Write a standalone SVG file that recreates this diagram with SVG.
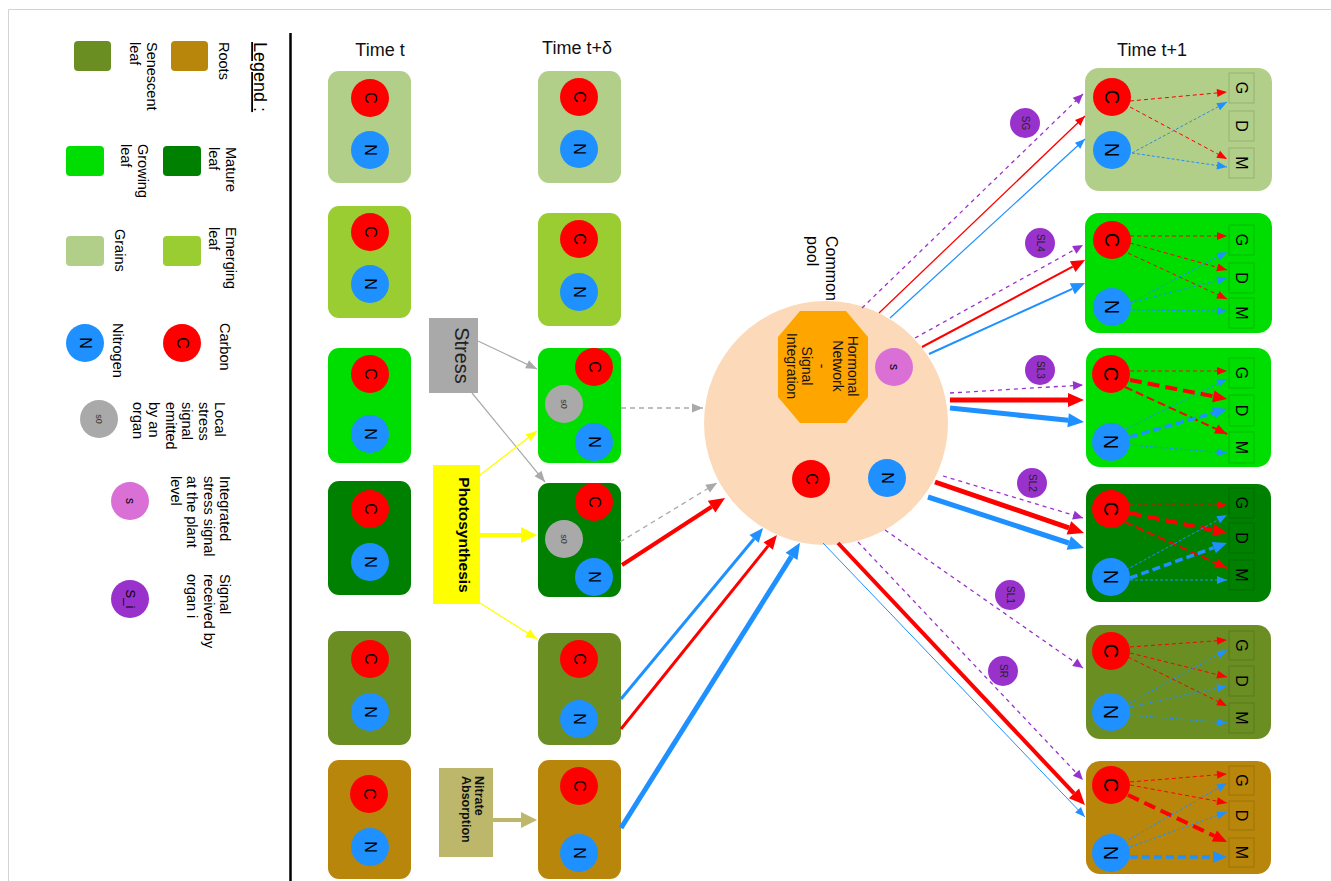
<svg xmlns="http://www.w3.org/2000/svg" width="1331" height="881" viewBox="0 0 1331 881">
<style>
text { font-family: "Liberation Sans", Arial, sans-serif; fill:#000; }
.lg { font-size:14.5px; }
.cn { font-size:16px; text-anchor:middle; dominant-baseline:central; }
.cb { font-size:20px; text-anchor:middle; dominant-baseline:central; }
.gdm { font-size:16px; text-anchor:middle; dominant-baseline:central; }
.sg { font-size:10px; text-anchor:middle; dominant-baseline:central; fill:#222; }
.s0 { font-size:9px; text-anchor:middle; dominant-baseline:central; fill:#333; }
.ttl { font-size:18px; text-anchor:middle; fill:#111; }
.C { fill:#FF0000; }
.N { fill:#1E90FF; }
.S0 { fill:#A9A9A9; }
.SS { fill:#DA70D6; }
.SI { fill:#9932CC; }
.grain { fill:#B2CF89; }
.emer { fill:#9ACD32; }
.grow { fill:#00DD00; }
.mat { fill:#008000; }
.sen { fill:#6B8E23; }
.root { fill:#B8860B; }
.bx { fill:none; stroke:#000; stroke-opacity:0.15; stroke-width:1; }
line { fill:none; }
.gd { stroke:#A9A9A9; stroke-width:1.3; stroke-dasharray:5 4; }
.g1 { stroke:#A9A9A9; stroke-width:1.2; }
.y1 { stroke:#FFFF00; stroke-width:1.3; }
.y4 { stroke:#FFFF00; stroke-width:4; }
.k4 { stroke:#BDB76B; stroke-width:4; }
.pd { stroke:#9932CC; stroke-width:1.3; stroke-dasharray:4 4; }
.r1 { stroke:#FF0000; stroke-width:1.3; }
.b1 { stroke:#1E90FF; stroke-width:1.2; }
.r2 { stroke:#FF0000; stroke-width:2; }
.b2 { stroke:#1E90FF; stroke-width:2; }
.r3 { stroke:#FF0000; stroke-width:3; }
.b3 { stroke:#1E90FF; stroke-width:3; }
.r4 { stroke:#FF0000; stroke-width:4; }
.r5 { stroke:#FF0000; stroke-width:5; }
.b5 { stroke:#1E90FF; stroke-width:5; }
.rd { stroke:#FF0000; stroke-width:1; stroke-dasharray:4 3; }
.bd { stroke:#1E90FF; stroke-width:1; stroke-dasharray:3 2; }
.rdm { stroke:#FF0000; stroke-width:2; stroke-dasharray:8 4; }
.rdt { stroke:#FF0000; stroke-width:4; stroke-dasharray:12 6; }
.bdt { stroke:#1E90FF; stroke-width:3.5; stroke-dasharray:8 4; }
</style>
<defs>
<marker id="aR" markerUnits="userSpaceOnUse" markerWidth="10" markerHeight="8" refX="10" refY="4" orient="auto" overflow="visible"><path d="M0,0L10,4L0,8z" fill="#FF0000"/></marker>
<marker id="aB" markerUnits="userSpaceOnUse" markerWidth="10" markerHeight="8" refX="10" refY="4" orient="auto" overflow="visible"><path d="M0,0L10,4L0,8z" fill="#1E90FF"/></marker>
<marker id="aP" markerUnits="userSpaceOnUse" markerWidth="10" markerHeight="9" refX="10" refY="4.5" orient="auto" overflow="visible"><path d="M0,0L10,4.5L0,9z" fill="#9932CC"/></marker>
<marker id="aG" markerUnits="userSpaceOnUse" markerWidth="11" markerHeight="9" refX="11" refY="4.5" orient="auto" overflow="visible"><path d="M0,0L11,4.5L0,9z" fill="#A9A9A9"/></marker>
<marker id="aY" markerUnits="userSpaceOnUse" markerWidth="11" markerHeight="9" refX="11" refY="4.5" orient="auto" overflow="visible"><path d="M0,0L11,4.5L0,9z" fill="#FFFF00"/></marker>
<marker id="aR2" markerUnits="userSpaceOnUse" markerWidth="12" markerHeight="10" refX="12" refY="5" orient="auto" overflow="visible"><path d="M0,0L12,5L0,10z" fill="#FF0000"/></marker>
<marker id="mR" markerUnits="userSpaceOnUse" markerWidth="14" markerHeight="12" refX="0" refY="6" orient="auto" overflow="visible"><path d="M0,0L14,6L0,12z" fill="#FF0000"/></marker>
<marker id="mB" markerUnits="userSpaceOnUse" markerWidth="14" markerHeight="12" refX="0" refY="6" orient="auto" overflow="visible"><path d="M0,0L14,6L0,12z" fill="#1E90FF"/></marker>
<marker id="lR" markerUnits="userSpaceOnUse" markerWidth="16" markerHeight="14" refX="0" refY="7" orient="auto" overflow="visible"><path d="M0,0L16,7L0,14z" fill="#FF0000"/></marker>
<marker id="lB" markerUnits="userSpaceOnUse" markerWidth="16" markerHeight="14" refX="0" refY="7" orient="auto" overflow="visible"><path d="M0,0L16,7L0,14z" fill="#1E90FF"/></marker>
<marker id="lY" markerUnits="userSpaceOnUse" markerWidth="16" markerHeight="16" refX="0" refY="8" orient="auto" overflow="visible"><path d="M0,0L16,8L0,16z" fill="#FFFF00"/></marker>
<marker id="lK" markerUnits="userSpaceOnUse" markerWidth="16" markerHeight="16" refX="0" refY="8" orient="auto" overflow="visible"><path d="M0,0L16,8L0,16z" fill="#BDB76B"/></marker>
</defs>

<rect x="0" y="0" width="1331" height="881" fill="#fff"/>
<path d="M8.5,881V9.5H1331" fill="none" stroke="#D3D3D3" stroke-width="1"/>
<line x1="290.5" y1="33" x2="290.5" y2="881" stroke="#000" stroke-width="2.5"/>

<g id="legend">
  <text class="lg" transform="translate(254,42) rotate(90)" style="font-size:18px;text-decoration:underline">Legend :</text>
  <rect class="root" x="171" y="41" width="37" height="30" rx="4"/>
  <text class="lg" transform="translate(219,42) rotate(90)">Roots</text>
  <rect class="sen" x="74" y="41" width="37" height="30" rx="4"/>
  <text class="lg" transform="translate(147,42) rotate(90)"><tspan x="0" y="0">Senescent</tspan><tspan x="0" y="17">leaf</tspan></text>
  <rect class="mat" x="163" y="146" width="38" height="30" rx="4"/>
  <text class="lg" transform="translate(226,147) rotate(90)"><tspan x="0" y="0">Mature</tspan><tspan x="0" y="17">leaf</tspan></text>
  <rect class="grow" x="66" y="146" width="38" height="30" rx="4"/>
  <text class="lg" transform="translate(138,144) rotate(90)"><tspan x="0" y="0">Growing</tspan><tspan x="0" y="17">leaf</tspan></text>
  <rect class="emer" x="163" y="236" width="38" height="30" rx="4"/>
  <text class="lg" transform="translate(226,227) rotate(90)"><tspan x="0" y="0">Emerging</tspan><tspan x="0" y="17">leaf</tspan></text>
  <rect class="grain" x="66" y="236" width="38" height="30" rx="4"/>
  <text class="lg" transform="translate(115,229) rotate(90)">Grains</text>
  <circle class="C" cx="182" cy="343" r="19"/>
  <text class="cn" transform="translate(182,343) rotate(90)">C</text>
  <text class="lg" transform="translate(220,323) rotate(90)">Carbon</text>
  <circle class="N" cx="85" cy="343" r="19"/>
  <text class="cn" transform="translate(85,343) rotate(90)">N</text>
  <text class="lg" transform="translate(113,323) rotate(90)">Nitrogen</text>
  <circle class="S0" cx="99" cy="419" r="19"/>
  <text class="s0" transform="translate(99,419) rotate(90)">s0</text>
  <text class="lg" transform="translate(215,402) rotate(90)"><tspan x="0" y="0">Local</tspan><tspan x="0" y="16.5">stress</tspan><tspan x="0" y="33">signal</tspan><tspan x="0" y="49.5">emitted</tspan><tspan x="0" y="66">by an</tspan><tspan x="0" y="82.5">organ</tspan></text>
  <circle class="SS" cx="130" cy="501" r="19"/>
  <text class="cn" transform="translate(130,501) rotate(90)" style="font-size:12px">s</text>
  <text class="lg" transform="translate(220,476) rotate(90)"><tspan x="0" y="0">Integrated</tspan><tspan x="0" y="16.5">stress signal</tspan><tspan x="0" y="33">at the plant</tspan><tspan x="0" y="49.5">level</tspan></text>
  <circle class="SI" cx="130" cy="599" r="19"/>
  <text class="cn" transform="translate(130,599) rotate(90)" style="font-size:13px">S_i</text>
  <text class="lg" transform="translate(220,574) rotate(90)"><tspan x="0" y="0">Signal</tspan><tspan x="0" y="16.5">received by</tspan><tspan x="0" y="33">organ i</tspan></text>
</g>

<text class="ttl" x="380" y="56">Time t</text>
<text class="ttl" x="577" y="54">Time t+δ</text>
<text class="ttl" x="1152" y="56">Time t+1</text>

<!-- Time t -->
<g id="t0-grains">
  <rect class="grain" x="328" y="71" width="83" height="112" rx="11"/>
  <circle class="C" cx="370" cy="98" r="19"/><text class="cn" transform="translate(370,98) rotate(90)">C</text>
  <circle class="N" cx="370" cy="150" r="19"/><text class="cn" transform="translate(370,150) rotate(90)">N</text>
</g>
<g id="t0-emerging">
  <rect class="emer" x="328" y="206" width="83" height="112" rx="11"/>
  <circle class="C" cx="370" cy="232" r="19"/><text class="cn" transform="translate(370,232) rotate(90)">C</text>
  <circle class="N" cx="370" cy="284" r="19"/><text class="cn" transform="translate(370,284) rotate(90)">N</text>
</g>
<g id="t0-growing">
  <rect class="grow" x="328" y="348" width="83" height="115" rx="11"/>
  <circle class="C" cx="370" cy="374" r="19"/><text class="cn" transform="translate(370,374) rotate(90)">C</text>
  <circle class="N" cx="370" cy="434" r="19"/><text class="cn" transform="translate(370,434) rotate(90)">N</text>
</g>
<g id="t0-mature">
  <rect class="mat" x="328" y="481" width="83" height="114" rx="11"/>
  <circle class="C" cx="370" cy="509" r="19"/><text class="cn" transform="translate(370,509) rotate(90)">C</text>
  <circle class="N" cx="370" cy="562" r="19"/><text class="cn" transform="translate(370,562) rotate(90)">N</text>
</g>
<g id="t0-senescent">
  <rect class="sen" x="328" y="631" width="83" height="114" rx="11"/>
  <circle class="C" cx="370" cy="659" r="19"/><text class="cn" transform="translate(370,659) rotate(90)">C</text>
  <circle class="N" cx="370" cy="712" r="19"/><text class="cn" transform="translate(370,712) rotate(90)">N</text>
</g>
<g id="t0-roots">
  <rect class="root" x="328" y="760" width="83" height="119" rx="11"/>
  <circle class="C" cx="369" cy="794" r="19"/><text class="cn" transform="translate(369,794) rotate(90)">C</text>
  <circle class="N" cx="370" cy="847" r="19"/><text class="cn" transform="translate(370,847) rotate(90)">N</text>
</g>

<!-- Time t+delta -->
<g id="td-grains">
  <rect class="grain" x="538" y="71" width="83" height="112" rx="11"/>
  <circle class="C" cx="579" cy="97" r="19"/><text class="cn" transform="translate(579,97) rotate(90)">C</text>
  <circle class="N" cx="579" cy="149" r="19"/><text class="cn" transform="translate(579,149) rotate(90)">N</text>
</g>
<g id="td-emerging">
  <rect class="emer" x="538" y="213" width="83" height="113" rx="11"/>
  <circle class="C" cx="579" cy="239" r="19"/><text class="cn" transform="translate(579,239) rotate(90)">C</text>
  <circle class="N" cx="579" cy="292" r="19"/><text class="cn" transform="translate(579,292) rotate(90)">N</text>
</g>
<g id="td-growing">
  <rect class="grow" x="538" y="348" width="83" height="115" rx="11"/>
  <circle class="C" cx="594" cy="367" r="19"/><text class="cn" transform="translate(594,367) rotate(90)">C</text>
  <circle class="S0" cx="564" cy="404" r="19"/><text class="s0" transform="translate(564,404) rotate(90)">s0</text>
  <circle class="N" cx="594" cy="442" r="19"/><text class="cn" transform="translate(594,442) rotate(90)">N</text>
</g>
<g id="td-mature">
  <rect class="mat" x="538" y="483" width="83" height="114" rx="11"/>
  <circle class="C" cx="594" cy="502" r="19"/><text class="cn" transform="translate(594,502) rotate(90)">C</text>
  <circle class="S0" cx="564" cy="539" r="19"/><text class="s0" transform="translate(564,539) rotate(90)">s0</text>
  <circle class="N" cx="594" cy="577" r="19"/><text class="cn" transform="translate(594,577) rotate(90)">N</text>
</g>
<g id="td-senescent">
  <rect class="sen" x="538" y="633" width="83" height="112" rx="11"/>
  <circle class="C" cx="579" cy="659" r="19"/><text class="cn" transform="translate(579,659) rotate(90)">C</text>
  <circle class="N" cx="579" cy="719" r="19"/><text class="cn" transform="translate(579,719) rotate(90)">N</text>
</g>
<g id="td-roots">
  <rect class="root" x="538" y="760" width="83" height="119" rx="11"/>
  <circle class="C" cx="579" cy="786" r="19"/><text class="cn" transform="translate(579,786) rotate(90)">C</text>
  <circle class="N" cx="579" cy="853" r="19"/><text class="cn" transform="translate(579,853) rotate(90)">N</text>
</g>

<g id="stress">
  <rect x="429" y="318" width="49" height="75" fill="#A9A9A9"/>
  <text transform="translate(455,355.5) rotate(90)" style="font-size:20px;text-anchor:middle;fill:#222">Stress</text>
</g>
<g id="photosynthesis">
  <rect x="433" y="465" width="47" height="139" fill="#FFFF00"/>
  <text transform="translate(459,535) rotate(90)" style="font-size:15.5px;font-weight:bold;text-anchor:middle">Photosynthesis</text>
</g>
<g id="nitrate">
  <rect x="439" y="768" width="54" height="89" fill="#BDB76B"/>
  <text transform="translate(475,776) rotate(90)" style="font-size:12.5px;font-weight:bold;fill:#111"><tspan x="0" y="0">Nitrate</tspan><tspan x="0" y="13.5">Absorption</tspan></text>
</g>

<g id="common-pool">
  <text class="lg" transform="translate(826,236) rotate(90)" style="font-size:16px"><tspan x="0" y="0">Common</tspan><tspan x="0" y="19">pool</tspan></text>
  <circle cx="826" cy="423" r="122" fill="#FCDAB9"/>
  <polygon points="800,311 846,311 868,337 868,397 846,423 800,423 778,397 778,337" fill="#FFA500"/>
  <text transform="translate(848,366) rotate(90)" style="font-size:14px;text-anchor:middle;fill:#111"><tspan x="0" y="0">Hormonal</tspan><tspan x="0" y="15.3">Network</tspan><tspan x="0" y="30.6">-</tspan><tspan x="0" y="45.9">Signal</tspan><tspan x="0" y="61.2">Integration</tspan></text>
  <circle class="SS" cx="894" cy="367" r="19"/><text class="cn" transform="translate(894,367) rotate(90)" style="font-size:12px">s</text>
  <circle class="C" cx="811" cy="479" r="19"/><text class="cn" transform="translate(811,479) rotate(90)">C</text>
  <circle class="N" cx="887" cy="478" r="19"/><text class="cn" transform="translate(887,478) rotate(90)">N</text>
</g>

<!-- Time t+1 -->
<g id="t1-grains">
  <rect class="grain" x="1085" y="68" width="187" height="123" rx="14"/>
  <circle class="C" cx="1112" cy="97" r="19"/><text class="cb" transform="translate(1112,97) rotate(90)">C</text>
  <circle class="N" cx="1112" cy="150" r="19"/><text class="cb" transform="translate(1112,150) rotate(90)">N</text>
  <rect class="bx" x="1229" y="73" width="25" height="30"/><text class="gdm" transform="translate(1241.5,88) rotate(90)">G</text>
  <rect class="bx" x="1229" y="111" width="25" height="30"/><text class="gdm" transform="translate(1241.5,126) rotate(90)">D</text>
  <rect class="bx" x="1229" y="148" width="25" height="30"/><text class="gdm" transform="translate(1241.5,163) rotate(90)">M</text>
</g>
<g id="t1-sl4">
  <rect class="grow" x="1085" y="213" width="187" height="120" rx="14"/>
  <circle class="C" cx="1112" cy="240" r="19"/><text class="cb" transform="translate(1112,240) rotate(90)">C</text>
  <circle class="N" cx="1112" cy="307" r="19"/><text class="cb" transform="translate(1112,307) rotate(90)">N</text>
  <rect class="bx" x="1229" y="225" width="25" height="30"/><text class="gdm" transform="translate(1241.5,240) rotate(90)">G</text>
  <rect class="bx" x="1229" y="263" width="25" height="30"/><text class="gdm" transform="translate(1241.5,278) rotate(90)">D</text>
  <rect class="bx" x="1229" y="298" width="25" height="30"/><text class="gdm" transform="translate(1241.5,313) rotate(90)">M</text>
</g>
<g id="t1-sl3">
  <rect class="grow" x="1086" y="348" width="185" height="119" rx="14"/>
  <circle class="C" cx="1111" cy="374" r="19"/><text class="cb" transform="translate(1111,374) rotate(90)">C</text>
  <circle class="N" cx="1111" cy="442" r="19"/><text class="cb" transform="translate(1111,442) rotate(90)">N</text>
  <rect class="bx" x="1229" y="358" width="25" height="30"/><text class="gdm" transform="translate(1241.5,373) rotate(90)">G</text>
  <rect class="bx" x="1229" y="395" width="25" height="31"/><text class="gdm" transform="translate(1241.5,410.5) rotate(90)">D</text>
  <rect class="bx" x="1229" y="432" width="25" height="31"/><text class="gdm" transform="translate(1241.5,447.5) rotate(90)">M</text>
</g>
<g id="t1-sl2">
  <rect class="mat" x="1086" y="484" width="185" height="118" rx="14"/>
  <circle class="C" cx="1111" cy="509" r="19"/><text class="cb" transform="translate(1111,509) rotate(90)">C</text>
  <circle class="N" cx="1111" cy="577" r="19"/><text class="cb" transform="translate(1111,577) rotate(90)">N</text>
  <rect class="bx" x="1229" y="488" width="25" height="30"/><text class="gdm" transform="translate(1241.5,503) rotate(90)">G</text>
  <rect class="bx" x="1229" y="523" width="25" height="30"/><text class="gdm" transform="translate(1241.5,538) rotate(90)">D</text>
  <rect class="bx" x="1229" y="560" width="25" height="30"/><text class="gdm" transform="translate(1241.5,575) rotate(90)">M</text>
</g>
<g id="t1-sl1">
  <rect class="sen" x="1086" y="625" width="185" height="114" rx="14"/>
  <circle class="C" cx="1111" cy="651" r="19"/><text class="cb" transform="translate(1111,651) rotate(90)">C</text>
  <circle class="N" cx="1111" cy="712" r="19"/><text class="cb" transform="translate(1111,712) rotate(90)">N</text>
  <rect class="bx" x="1229" y="631" width="25" height="29"/><text class="gdm" transform="translate(1241.5,645.5) rotate(90)">G</text>
  <rect class="bx" x="1229" y="666" width="25" height="30"/><text class="gdm" transform="translate(1241.5,681) rotate(90)">D</text>
  <rect class="bx" x="1229" y="703" width="25" height="30"/><text class="gdm" transform="translate(1241.5,718) rotate(90)">M</text>
</g>
<g id="t1-sr">
  <rect class="root" x="1086" y="761" width="185" height="113" rx="14"/>
  <circle class="C" cx="1111" cy="785" r="19"/><text class="cb" transform="translate(1111,785) rotate(90)">C</text>
  <circle class="N" cx="1111" cy="853" r="19"/><text class="cb" transform="translate(1111,853) rotate(90)">N</text>
  <rect class="bx" x="1229" y="766" width="25" height="29"/><text class="gdm" transform="translate(1241.5,780.5) rotate(90)">G</text>
  <rect class="bx" x="1229" y="801" width="25" height="29"/><text class="gdm" transform="translate(1241.5,815.5) rotate(90)">D</text>
  <rect class="bx" x="1229" y="838" width="25" height="29"/><text class="gdm" transform="translate(1241.5,852.5) rotate(90)">M</text>
</g>

<g id="signal-SG"><circle class="SI" cx="1025" cy="123" r="15"/><text class="sg" transform="translate(1025,123) rotate(90)">SG</text></g>
<g id="signal-SL4"><circle class="SI" cx="1040" cy="243" r="15"/><text class="sg" transform="translate(1040,243) rotate(90)">SL4</text></g>
<g id="signal-SL3"><circle class="SI" cx="1040" cy="370" r="15"/><text class="sg" transform="translate(1040,370) rotate(90)">SL3</text></g>
<g id="signal-SL2"><circle class="SI" cx="1032" cy="483" r="15"/><text class="sg" transform="translate(1032,483) rotate(90)">SL2</text></g>
<g id="signal-SL1"><circle class="SI" cx="1010" cy="595" r="15"/><text class="sg" transform="translate(1010,595) rotate(90)">SL1</text></g>
<g id="signal-SR"><circle class="SI" cx="1003" cy="671" r="15"/><text class="sg" transform="translate(1003,671) rotate(90)">SR</text></g>

<g id="connectors">
  <line class="g1" x1="478" y1="341" x2="537" y2="369" marker-end="url(#aG)"/>
  <line class="g1" x1="472" y1="393" x2="545" y2="482" marker-end="url(#aG)"/>
  <line class="y1" x1="480" y1="475" x2="537" y2="431" marker-end="url(#aY)"/>
  <line class="y4" x1="480" y1="535" x2="521" y2="535" marker-end="url(#lY)"/>
  <line class="y1" x1="480" y1="603" x2="537" y2="639" marker-end="url(#aY)"/>
  <line class="k4" x1="493" y1="820" x2="521" y2="820" marker-end="url(#lK)"/>
  <line class="gd" x1="621" y1="408" x2="703" y2="408" marker-end="url(#aG)"/>
  <line class="gd" x1="620" y1="542" x2="717" y2="483" marker-end="url(#aG)"/>
  <line class="r4" x1="622" y1="565" x2="711.6" y2="506.7" marker-end="url(#lR)"/>
  <line class="b3" x1="621" y1="699" x2="754.1" y2="538.8" marker-end="url(#mB)"/>
  <line class="r3" x1="621" y1="729" x2="768.2" y2="545.9" marker-end="url(#mR)"/>
  <line class="b5" x1="621" y1="828" x2="791.5" y2="556.4" marker-end="url(#lB)"/>
  <line class="pd" x1="862" y1="308" x2="1083" y2="94" marker-end="url(#aP)"/>
  <line class="r1" x1="879" y1="313" x2="1085" y2="116" marker-end="url(#aR)"/>
  <line class="b1" x1="890" y1="318" x2="1085" y2="139" marker-end="url(#aB)"/>
  <line class="pd" x1="915" y1="338" x2="1083" y2="245" marker-end="url(#aP)"/>
  <line class="r2" x1="922" y1="347" x2="1072.7" y2="266.6" marker-end="url(#mR)"/>
  <line class="b2" x1="929" y1="354" x2="1072.3" y2="288.8" marker-end="url(#mB)"/>
  <line class="pd" x1="950" y1="393" x2="1083" y2="385" marker-end="url(#aP)"/>
  <line class="r5" x1="950" y1="400" x2="1068" y2="400" marker-end="url(#lR)"/>
  <line class="b5" x1="950" y1="408" x2="1068.1" y2="420.3" marker-end="url(#lB)"/>
  <line class="pd" x1="943" y1="476" x2="1083" y2="518" marker-end="url(#aP)"/>
  <line class="r5" x1="935" y1="482" x2="1068.9" y2="527.8" marker-end="url(#lR)"/>
  <line class="b5" x1="928" y1="497" x2="1068.8" y2="543" marker-end="url(#lB)"/>
  <line class="pd" x1="885" y1="530" x2="1083" y2="668" marker-end="url(#aP)"/>
  <line class="pd" x1="858" y1="542" x2="1083" y2="780" marker-end="url(#aP)"/>
  <line class="r4" x1="838" y1="543" x2="1074" y2="793.4" marker-end="url(#lR)"/>
  <line class="b1" x1="823" y1="543" x2="1085" y2="817" style="stroke-width:1" marker-end="url(#aB)"/>
  <line class="rd" x1="1130" y1="101" x2="1227" y2="92" marker-end="url(#aR)"/>
  <line class="rd" x1="1130" y1="107" x2="1227" y2="159" marker-end="url(#aR)"/>
  <line class="bd" x1="1132" y1="153" x2="1227" y2="102" marker-end="url(#aB)"/>
  <line class="bd" x1="1132" y1="153" x2="1227" y2="167" marker-end="url(#aB)"/>
  <line class="rd" x1="1130" y1="236" x2="1227" y2="236" marker-end="url(#aR)"/>
  <line class="rd" x1="1130" y1="243" x2="1227" y2="270" marker-end="url(#aR)"/>
  <line class="rd" x1="1128" y1="253" x2="1227" y2="299" marker-end="url(#aR)"/>
  <line class="bd" x1="1130" y1="303" x2="1227" y2="252" marker-end="url(#aB)"/>
  <line class="bd" x1="1130" y1="303" x2="1227" y2="278" marker-end="url(#aB)"/>
  <line class="bd" x1="1132" y1="310" x2="1227" y2="311" marker-end="url(#aB)"/>
  <line class="rd" x1="1130" y1="371" x2="1227" y2="371" marker-end="url(#aR)"/>
  <line class="rdt" x1="1130" y1="380" x2="1213.3" y2="396.3" marker-end="url(#mR)"/>
  <line class="rdm" x1="1125" y1="387" x2="1227" y2="434" marker-end="url(#aR2)"/>
  <line class="bd" x1="1126" y1="429" x2="1227" y2="379" marker-end="url(#aB)"/>
  <line class="bdt" x1="1130" y1="437" x2="1213.6" y2="412.9" marker-end="url(#mB)"/>
  <line class="bd" x1="1130" y1="445" x2="1227" y2="453" marker-end="url(#aB)"/>
  <line class="rd" x1="1130" y1="505" x2="1227" y2="505" marker-end="url(#aR)"/>
  <line class="rdt" x1="1130" y1="513" x2="1213.3" y2="530.2" marker-end="url(#mR)"/>
  <line class="rdm" x1="1125" y1="522" x2="1227" y2="568" marker-end="url(#aR2)"/>
  <line class="bd" x1="1126" y1="570" x2="1227" y2="515" marker-end="url(#aB)"/>
  <line class="bdt" x1="1130" y1="578" x2="1213.8" y2="547.7" marker-end="url(#mB)"/>
  <line class="bd" x1="1130" y1="580" x2="1227" y2="580" marker-end="url(#aB)"/>
  <line class="rd" x1="1130" y1="647" x2="1227" y2="640" marker-end="url(#aR)"/>
  <line class="rd" x1="1130" y1="653" x2="1227" y2="677" marker-end="url(#aR)"/>
  <line class="rd" x1="1128" y1="657" x2="1227" y2="706" marker-end="url(#aR)"/>
  <line class="bd" x1="1130" y1="703" x2="1227" y2="650" marker-end="url(#aB)"/>
  <line class="bd" x1="1130" y1="707" x2="1227" y2="686" marker-end="url(#aB)"/>
  <line class="bd" x1="1130" y1="715" x2="1227" y2="723" marker-end="url(#aB)"/>
  <line class="rd" x1="1130" y1="782" x2="1227" y2="774" marker-end="url(#aR)"/>
  <line class="rd" x1="1130" y1="785" x2="1227" y2="803" marker-end="url(#aR)"/>
  <line class="rdt" x1="1128" y1="795" x2="1214.4" y2="836" marker-end="url(#mR)"/>
  <line class="bd" x1="1128" y1="840" x2="1227" y2="783" marker-end="url(#aB)"/>
  <line class="bd" x1="1130" y1="847" x2="1227" y2="812" marker-end="url(#aB)"/>
  <line class="bdt" x1="1130" y1="857" x2="1213" y2="857" marker-end="url(#mB)"/>
</g>
</svg>
